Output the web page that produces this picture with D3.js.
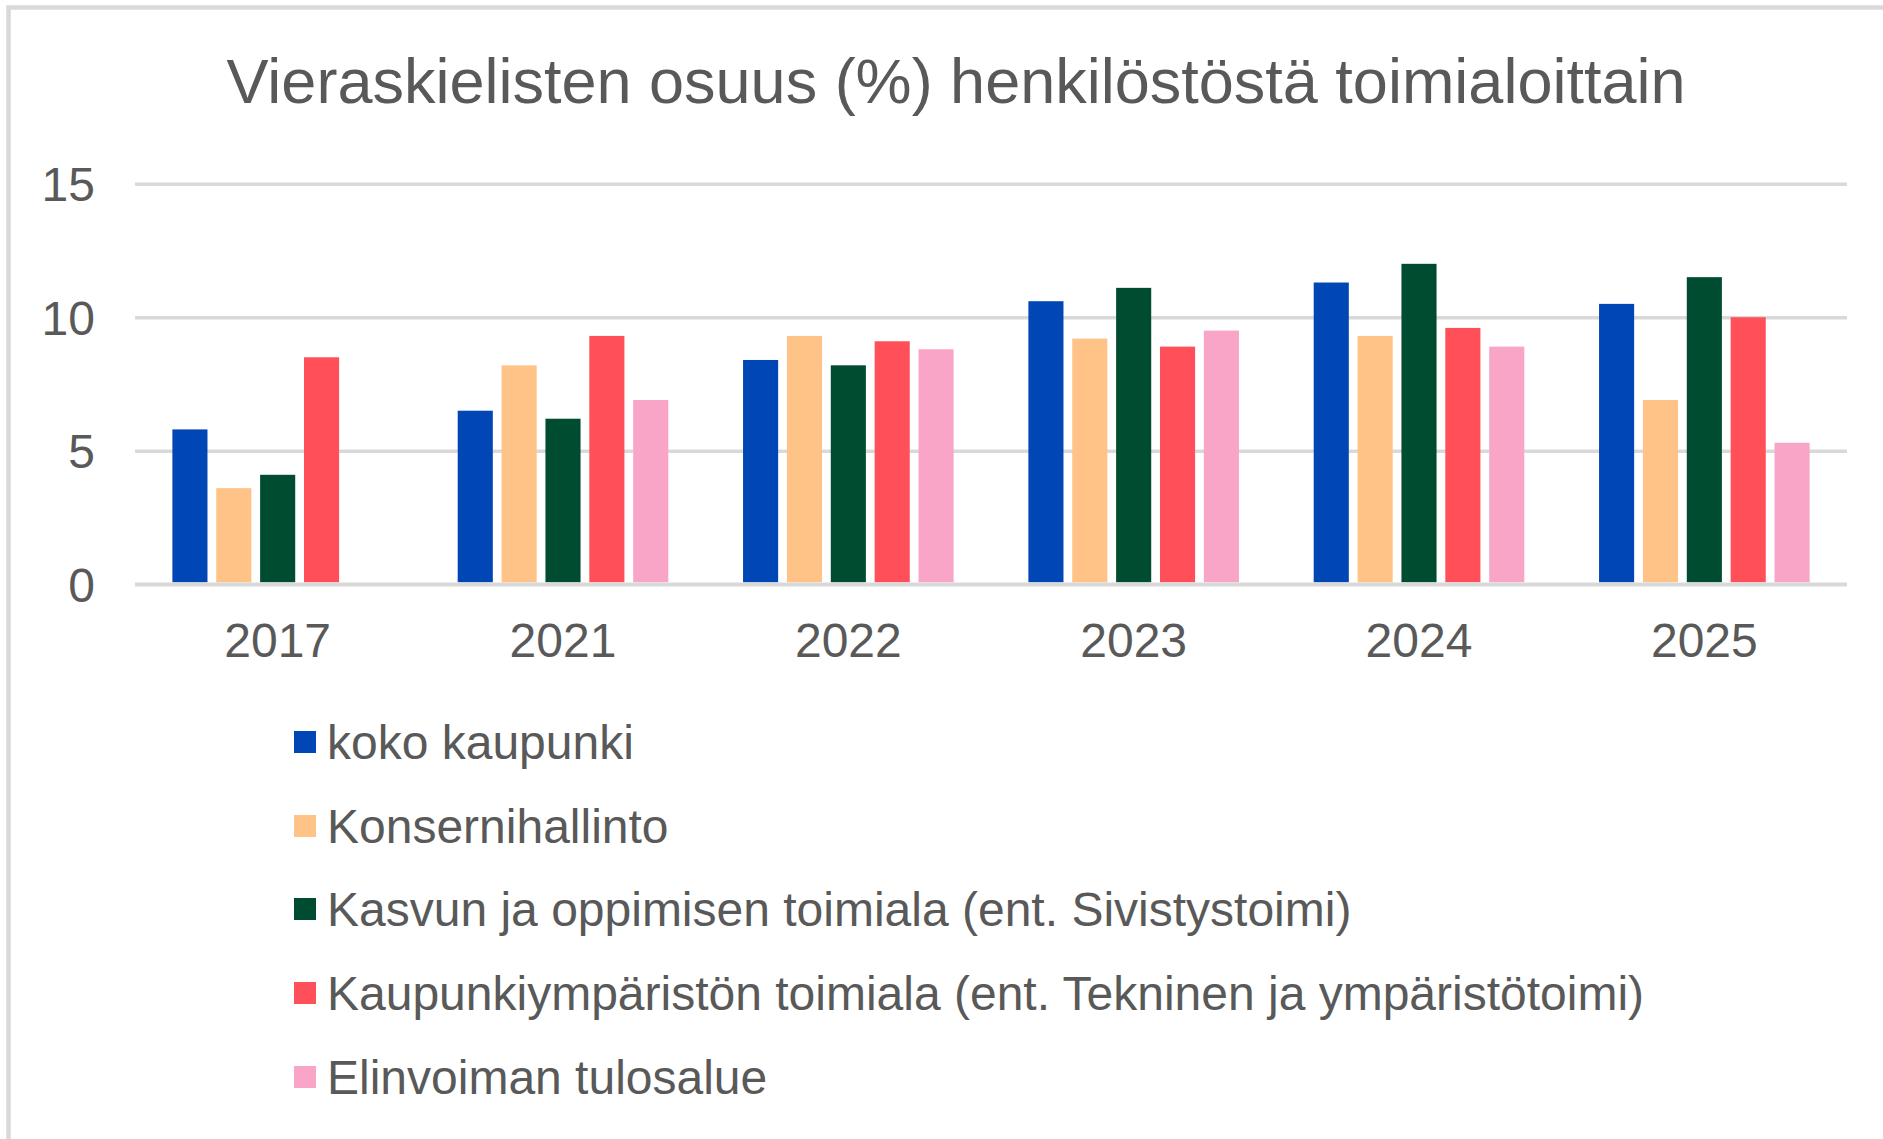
<!DOCTYPE html>
<html>
<head>
<meta charset="utf-8">
<script src="https://cdn.jsdelivr.net/npm/d3@7"></script>
<style>
  html, body { margin: 0; padding: 0; background: #fff; }
  svg { display: block; font-family: "Liberation Sans", Arial, sans-serif; }
</style>
</head>
<body>
<svg id="chart" width="1883" height="1139"></svg>
<script>
const title = "Vieraskielisten osuus (%) henkilöstöstä toimialoittain";
const years = ["2017", "2021", "2022", "2023", "2024", "2025"];
const seriesNames = [
  "koko kaupunki",
  "Konsernihallinto",
  "Kasvun ja oppimisen toimiala (ent. Sivistystoimi)",
  "Kaupunkiympäristön toimiala (ent. Tekninen ja ympäristötoimi)",
  "Elinvoiman tulosalue"
];
const kokoKaupunki    = [5.8, 6.5, 8.4, 10.6, 11.3, 10.5];
const konsernihallinto = [3.6, 8.2, 9.3, 9.2, 9.3, 6.9];
const kasvunJaOppimisen = [4.1, 6.2, 8.2, 11.1, 12.0, 11.5];
const kaupunkiymparisto = [8.5, 9.3, 9.1, 8.9, 9.6, 10.0];
const elinvoima        = [null, 6.9, 8.8, 9.5, 8.9, 5.3];
const yTicks = [0, 5, 10, 15];
const colors = ["#0047B5", "#FFC387", "#004C30", "#FF4F59", "#F9A5C8"];

const seriesValues = [kokoKaupunki, konsernihallinto, kasvunJaOppimisen, kaupunkiymparisto, elinvoima];

const svg = d3.select("#chart");
const textColor = "#595959";
const gridColor = "#d9d9d9";

// outer border (top and left visible)
svg.append("rect")
  .attr("x", 8.5).attr("y", 7.5)
  .attr("width", 1900).attr("height", 1200)
  .attr("fill", "none").attr("stroke", gridColor).attr("stroke-width", 4.5);

// title
svg.append("text")
  .attr("x", 956).attr("y", 103)
  .attr("text-anchor", "middle")
  .attr("fill", textColor)
  .attr("font-size", 63)
  .text(title);

const plotLeft = 135, plotRight = 1847, plotTop = 183.7, plotBottom = 584.3;

const x0 = d3.scaleBand().domain(years).range([plotLeft, plotRight]).paddingInner(0.262).paddingOuter(0.131);
const x1 = d3.scaleBand().domain(seriesNames).range([0, x0.bandwidth()]).paddingInner(0.2).paddingOuter(0);
const y = d3.scaleLinear().domain([0, 15]).range([plotBottom, plotTop]);

// y axis with gridlines
const yAxis = svg.append("g")
  .attr("transform", `translate(${plotLeft},0)`)
  .call(d3.axisLeft(y).tickValues(yTicks).tickSize(-(plotRight - plotLeft)).tickPadding(40));
yAxis.select(".domain").remove();
yAxis.selectAll(".tick line").attr("stroke", gridColor).attr("stroke-width", 3.5);
yAxis.selectAll(".tick text")
  .attr("fill", textColor)
  .attr("font-size", 48)
  .attr("font-family", "Liberation Sans, Arial, sans-serif")
  .attr("dy", "0.35em");

// bars
const data = [];
years.forEach((yr, i) => {
  seriesNames.forEach((s, j) => {
    const v = seriesValues[j][i];
    if (v !== null && v !== undefined) data.push({ year: yr, series: s, value: v, color: colors[j] });
  });
});

svg.append("g").selectAll("rect")
  .data(data)
  .join("rect")
  .attr("x", d => x0(d.year) + x1(d.series))
  .attr("y", d => y(d.value))
  .attr("width", x1.bandwidth())
  .attr("height", d => y(0) - y(d.value) - 2)
  .attr("fill", d => d.color);

// zero line on top
svg.append("line")
  .attr("x1", plotLeft).attr("x2", plotRight)
  .attr("y1", y(0)).attr("y2", y(0))
  .attr("stroke", gridColor).attr("stroke-width", 3.5);

// x axis labels
const xAxis = svg.append("g")
  .attr("transform", `translate(0,${plotBottom})`)
  .call(d3.axisBottom(x0).tickSize(0));
xAxis.select(".domain").remove();
xAxis.selectAll(".tick text")
  .attr("fill", textColor)
  .attr("font-size", 48)
  .attr("font-family", "Liberation Sans, Arial, sans-serif")
  .attr("dy", null)
  .attr("y", 72.5);

// legend
const legend = svg.append("g");
const legendY = [742, 826, 909, 993, 1077];
seriesNames.forEach((s, j) => {
  const g = legend.append("g").attr("transform", `translate(294,${legendY[j]})`);
  g.append("rect").attr("x", 0).attr("y", -11).attr("width", 22).attr("height", 22).attr("fill", colors[j]);
  g.append("text").attr("x", 33).attr("y", 17)
    .attr("fill", textColor).attr("font-size", 48)
    .text(s);
});
</script>
</body>
</html>
